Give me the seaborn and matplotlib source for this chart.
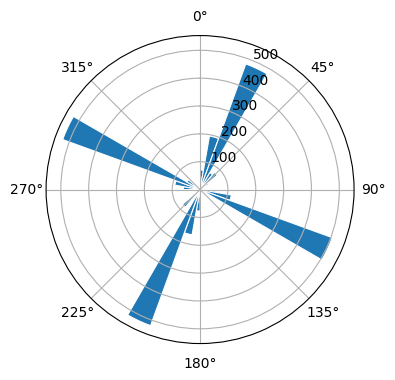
import numpy as np
import pandas as pd
import matplotlib
matplotlib.use("Agg")
import matplotlib.pyplot as plt
import seaborn as sns

# Wind-rose style histogram: 36 direction bins of 10 degrees
bin_start_deg = list(range(0, 360, 10))
counts = [70, 195, 480, 70, 80, 35, 10, 0, 15,
          55, 114, 505, 25, 0, 0, 0, 0, 10,
          77, 165, 520, 30, 82, 20, 0, 0, 20,
          60, 92, 525, 55, 0, 0, 0, 0, 20]
angle_ticks = ["0°", "45°", "90°", "135°", "180°", "225°", "270°", "315°"]

df = pd.DataFrame({
    "theta": np.deg2rad(np.array(bin_start_deg) + 5.0),
    "count": counts,
})

fig = plt.figure(figsize=(4, 4), dpi=100)
ax = fig.add_subplot(111, projection="polar")
ax.set_theta_zero_location("N")
ax.set_theta_direction(-1)

sns.histplot(data=df, x="theta", weights="count",
             binwidth=np.deg2rad(10), binrange=(0, 2 * np.pi), ax=ax,
             color="#1f77b4", alpha=1, edgecolor="white", linewidth=0.8)

ax.set_xlabel("")
ax.set_ylabel("")
ax.set_xticks(np.deg2rad(np.arange(0, 360, 45)))
ax.set_xticklabels(angle_ticks)
ax.set_ylim(0, 553)
ax.set_yticks([100, 200, 300, 400, 500])
ax.set_rlabel_position(22.5)
ax.grid(True)

fig.savefig("out.png", dpi=100, bbox_inches="tight")
